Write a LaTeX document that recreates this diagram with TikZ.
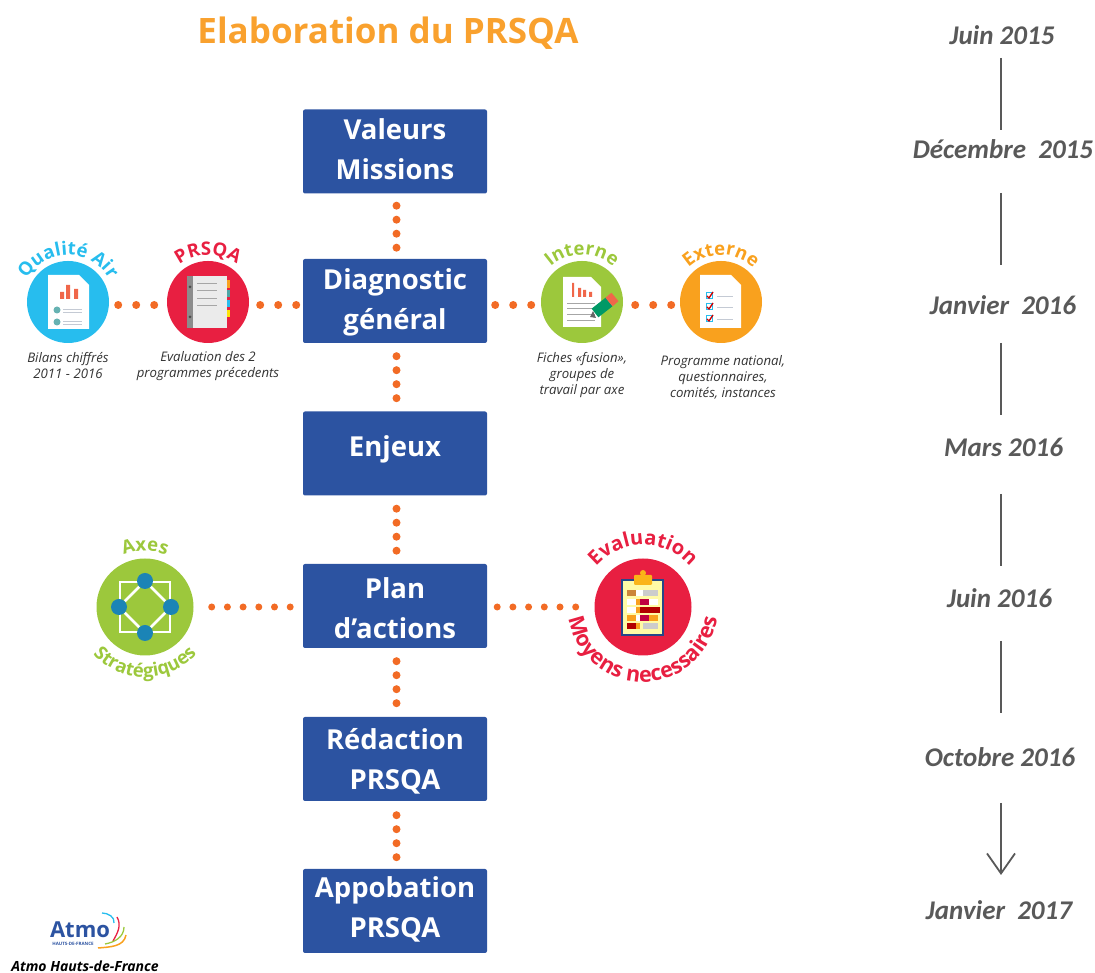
\documentclass[tikz,border=0pt]{standalone}
\usepackage{fontspec}
\setmainfont{Open Sans}
\newfontfamily\datefont{Carlito}
\usetikzlibrary{arrows.meta,decorations.text}

\definecolor{bleu}{HTML}{2C53A1}
\definecolor{points}{HTML}{F26B25}
\definecolor{titre}{HTML}{F9A12E}
\definecolor{ciel}{HTML}{27BDEE}
\definecolor{rouge}{HTML}{E81F41}
\definecolor{vert}{HTML}{9CC83C}
\definecolor{orange}{HTML}{F9A11E}
\definecolor{gris}{HTML}{595959}
\definecolor{legende}{HTML}{333333}
\definecolor{trait}{HTML}{C4CAD4}
\definecolor{barre}{HTML}{F0674A}
\definecolor{noeud}{HTML}{1B84B6}

\newcommand{\arcfont}{\fontsize{18.5}{20}\selectfont\bfseries}
\newcommand{\arcfontb}{\fontsize{20}{20}\selectfont\bfseries}
\newcommand{\arcfontc}{\fontsize{21.5}{23}\selectfont\bfseries}
\newcommand{\lignes}[3]{\smash{\raisebox{#1}{#2}}\\\smash{\raisebox{#1}{#3}}}

\begin{document}
\begin{tikzpicture}[x=1pt,y=1pt,node distance=152pt]

    % Definitions
    \tikzstyle{Etape} = [rectangle, rounded corners=2pt, minimum width=184pt, minimum height=84pt, inner sep=0pt, align=center, fill=bleu, text=white, font=\fontsize{27.5}{40}\selectfont\bfseries]
    \tikzstyle{Rond} = [circle, minimum size=82pt, inner sep=0pt]
    \tikzstyle{Grand} = [circle, minimum size=97pt, inner sep=0pt]
    \tikzstyle{Date} = [inner sep=0pt, text=gris, font=\datefont\fontsize{27}{27}\selectfont\bfseries\itshape]
    \tikzstyle{Legende} = [align=center, text=legende, font=\fontsize{13.2}{16}\selectfont\itshape]
    \tikzstyle{dots} = [draw=points, line width=8pt, line cap=round, dash pattern=on 0pt off 14pt]
    \tikzstyle{dotsh} = [draw=points, line width=8pt, line cap=round, dash pattern=on 0pt off 18pt]
    \tikzstyle{dotsl} = [draw=points, line width=7pt, line cap=round, dash pattern=on 0pt off 15.7pt]
    \tikzstyle{ligne} = [draw=gris, line width=1.8pt]
    \tikzstyle{arrow} = [ligne,->,>={Straight Barb[length=20pt,width=28pt]}]
    \tikzstyle{Papier} = [fill=white]
    \tikzstyle{Noeud} = [circle, fill=noeud, minimum size=16pt, inner sep=0pt]

    \useasboundingbox (0,0) rectangle (1095,973);

    \node (Titre) at (388,940) [text=titre, font=\fontsize{35}{35}\selectfont\bfseries] {Elaboration du PRSQA};

    % Etapes
    \node (Valeurs) at (395,821.5) [Etape] {\lignes{-8.5pt}{Valeurs}{Missions}};
    \node (Diagnostic) [Etape, below of=Valeurs, yshift=2.5pt] {\lignes{-9pt}{Diagnostic}{général}};
    \node (Enjeux) [Etape, below of=Diagnostic, yshift=-0.5pt] {\smash{\raisebox{-3.5pt}{Enjeux}}};
    \node (Plan) [Etape, below of=Enjeux, yshift=-0.5pt] {\lignes{-13pt}{Plan}{d'actions}};
    \node (Redaction) [Etape, below of=Plan, yshift=-1pt] {\lignes{-11pt}{Rédaction}{PRSQA}};
    \node (Approbation) [Etape, below of=Redaction] {\lignes{-7pt}{Appobation}{PRSQA}};

    % Ronds
    \node (Prsqa) [Rond, fill=rouge, left of=Diagnostic, xshift=-35pt, yshift=-1pt] {};
    \node (Qualite) [Rond, fill=ciel, left of=Prsqa, xshift=12pt] {};
    \node (Interne) [Rond, fill=vert, right of=Diagnostic, xshift=35pt, yshift=-1pt] {};
    \node (Externe) [Rond, fill=orange, right of=Interne, xshift=-13pt] {};
    \node (Axes) [Grand, fill=vert, left of=Plan, xshift=-98pt, yshift=-1pt] {};
    \node (Evaluation) [Grand, fill=rouge, right of=Plan, xshift=96pt, yshift=-1pt] {};

    % Legendes
    \node (LQualite) [Legende, below of=Qualite, yshift=88pt] {Bilans chiffrés\\2011 - 2016};
    \node (LPrsqa) [Legende, below of=Prsqa, yshift=88pt] {Evaluation des 2\\programmes précedents};
    \node (LInterne) [Legende, below of=Interne, yshift=79pt] {Fiches «fusion»,\\groupes de\\travail par axe};
    \node (LExterne) [Legende, below of=Externe, xshift=2pt, yshift=77pt] {Programme national,\\questionnaires,\\comités, instances};

    % Dates
    \node (D1) at (1002,938) [Date] {Juin 2015};
    \node (D2) [Date, below of=D1, xshift=1pt, yshift=38pt] {Décembre~~2015};
    \node (D3) [Date, below of=D2, yshift=-4pt] {Janvier~~2016};
    \node (D4) [Date, below of=D3, xshift=0.5pt, yshift=10pt] {Mars 2016};
    \node (D5) [Date, below of=D4, xshift=-4pt, yshift=1pt] {Juin 2016};
    \node (D6) [Date, below of=D5, xshift=0.5pt, yshift=-7pt] {Octobre 2016};
    \node (D7) [Date, below of=D6, xshift=-1pt, yshift=-1pt] {Janvier~~2017};
    \coordinate (Axe) at (1001,0);

    \draw [ligne, shorten <=23pt, shorten >=19pt] (D1 -| Axe) -- (D2 -| Axe);
    \draw [ligne, shorten <=44pt, shorten >=40pt] (D2 -| Axe) -- (D3 -| Axe);
    \draw [ligne, shorten <=38pt, shorten >=32pt] (D3 -| Axe) -- (D4 -| Axe);
    \draw [ligne, shorten <=47pt, shorten >=32pt] (D4 -| Axe) -- (D5 -| Axe);
    \draw [ligne, shorten <=43pt, shorten >=44pt] (D5 -| Axe) -- (D6 -| Axe);
    \draw [arrow, shorten <=46pt, shorten >=35pt] (D6 -| Axe) -- (D7 -| Axe);

    % Pointilles
    \draw [dots, shorten <=12pt, shorten >=5pt] ([xshift=1.5pt]Valeurs.south) -- ([xshift=1.5pt]Diagnostic.north);
    \draw [dots, shorten <=13pt, shorten >=5pt] ([xshift=1.5pt]Diagnostic.south) -- ([xshift=1.5pt]Enjeux.north);
    \draw [dots, shorten <=13pt, shorten >=5pt] ([xshift=1.5pt]Enjeux.south) -- ([xshift=1.5pt]Plan.north);
    \draw [dots, shorten <=13pt, shorten >=5pt] ([xshift=1.5pt]Plan.south) -- ([xshift=1.5pt]Redaction.north);
    \draw [dots, shorten <=14pt, shorten >=5pt] ([xshift=1.5pt]Redaction.south) -- ([xshift=1.5pt]Approbation.north);
    \draw [dotsh, shorten <=9pt, shorten >=5pt] ([yshift=-3pt]Qualite.east) -- ([yshift=-3pt]Prsqa.west);
    \draw [dotsh, shorten <=11pt, shorten >=3pt] ([yshift=-3pt]Prsqa.east) -- ([yshift=-4pt]Diagnostic.west);
    \draw [dotsh, shorten <=8pt, shorten >=4pt] ([yshift=-4pt]Diagnostic.east) -- ([yshift=-3pt]Interne.west);
    \draw [dotsh, shorten <=12pt, shorten >=5pt] ([yshift=-3pt]Interne.east) -- ([yshift=-3pt]Externe.west);
    \draw [dotsl, shorten <=18pt, shorten >=6pt] (Axes.east) -- ([yshift=-1pt]Plan.west);
    \draw [dotsl, shorten <=10pt, shorten >=10pt] ([yshift=-1pt]Plan.east) -- (Evaluation.west);

    % Textes en arc
    \path [decorate, decoration={text along path, text align=center, text={|\arcfont\color{ciel}|Qualité Air}}] ([shift={(170:47pt)}]Qualite.center) arc (170:10:47pt);
    \path [decorate, decoration={text along path, text align=center, text={|\arcfont\color{rouge}|PRSQA}}] ([shift={(170:47pt)}]Prsqa.center) arc (170:10:47pt);
    \path [decorate, decoration={text along path, text align=center, text={|\arcfont\color{vert}|Interne}}] ([shift={(170:47pt)}]Interne.center) arc (170:10:47pt);
    \path [decorate, decoration={text along path, text align=center, text={|\arcfont\color{orange}|Externe}}] ([shift={(170:47pt)}]Externe.center) arc (170:10:47pt);
    \path [decorate, decoration={text along path, text align=center, text={|\arcfont\color{vert}|Axes}}] ([shift={(170:56pt)}]Axes.center) arc (170:10:56pt);
    \path [decorate, decoration={text along path, text align=center, text={|\arcfont\color{vert}|Stratégiques}}] ([shift={(190:70pt)}]Axes.center) arc (190:350:70pt);
    \path [decorate, decoration={text along path, text align=center, text={|\arcfontb\color{rouge}|Evaluation}}] ([shift={(170:62pt)}]Evaluation.center) arc (170:10:62pt);
    \path [decorate, decoration={text along path, text align=center, text={|\arcfontc\color{rouge}|Moyens necessaires}}] ([shift={(190:75pt)}]Evaluation.center) arc (190:350:75pt);

    % Icone qualite
    \begin{scope}[shift={(Qualite.center)}]
        \fill [Papier] (-20,27) -- (11,27) -- (21,17) -- (21,-27) -- (-20,-27) -- cycle;
        \fill [barre] (-8,3) rectangle (-4,10) (-2,3) rectangle (2,17) (6,3) rectangle (10,13);
        \fill [teal!60] (-11,-8) circle (3.5pt) (-11,-20) circle (3.5pt);
        \foreach \y in {-7,-10,-19,-22} \draw [trait] (-5,\y) -- (14,\y);
    \end{scope}

    % Icone cahier
    \begin{scope}[shift={(Prsqa.center)}]
        \fill [black!8] (-21,26) rectangle (19,-26);
        \fill [black!45] (-21,26) rectangle (-15,-26);
        \fill [black!70] (-18,15) circle (1.5pt) (-18,-15) circle (1.5pt);
        \foreach \y in {19,12,4,-3} \draw [black!35, line width=0.8pt] (-11,\y) -- (9,\y);
        \fill [orange] (19,22) rectangle (22,14);
        \fill [teal!70] (19,12) rectangle (22,5);
        \fill [ciel] (19,2) rectangle (22,-5);
        \fill [yellow!80!orange] (19,-8) rectangle (22,-15);
    \end{scope}

    % Icone fiche
    \begin{scope}[shift={(Interne.center)}]
        \fill [Papier] (-19,25) -- (9,25) -- (19,15) -- (19,-25) -- (-19,-25) -- cycle;
        \fill [barre] (-10,5) rectangle (-8,19) (-4,5) rectangle (-1,14) (1,5) rectangle (4,12) (7,5) rectangle (10,10);
        \foreach \y in {-1,-6,-12,-18} \draw [black!35, line width=0.8pt] (-15,\y) -- (13,\y);
        \draw [teal!80!green, line width=11pt] (13,-11) -- (27,0);
        \draw [barre, line width=11pt] (27,0) -- (33,5);
        \fill [black!60] (8,-15) -- (11,-9) -- (14,-16) -- cycle;
    \end{scope}

    % Icone liste
    \begin{scope}[shift={(Externe.center)}]
        \fill [Papier] (-21,27) -- (10,27) -- (20,17) -- (20,-26) -- (-21,-26) -- cycle;
        \foreach \y in {6,-5,-17} {
            \draw [ciel, line width=1pt] (-15,\y-3) rectangle (-9,\y+3);
            \draw [red!80!black, line width=1.3pt] (-14,\y) -- (-12,\y-2) -- (-8,\y+4);
            \draw [trait, line width=0.6pt] (-4,\y) -- (12,\y);
        }
    \end{scope}

    % Icone axes
    \begin{scope}[shift={(Axes.center)}]
        \draw [white, line width=2.5pt] (-25,25) rectangle (25,-25);
        \node (N1) at (0,26) [Noeud] {};
        \node (N2) at (26,0) [Noeud] {};
        \node (N3) at (0,-26) [Noeud] {};
        \node (N4) at (-26,0) [Noeud] {};
        \draw [white, line width=2.5pt] (N1) -- (N2) -- (N3) -- (N4) -- (N1);
    \end{scope}

    % Icone evaluation
    \begin{scope}[shift={(Evaluation.center)}]
        \fill [yellow!35!white, draw=bleu!85!black, line width=1.5pt] (-21,27) rectangle (20,-28);
        \fill [orange!80!yellow, rounded corners=1pt] (-9,22) rectangle (9,32);
        \fill [orange!80!yellow] (0,34) circle (3pt);
        \foreach \xa/\xb/\y/\c in {-16/-7/14/brown!80!orange, -7/0/14/white, 0/15/14/black!20,
            -16/-7/5/white, -7/-3/5/orange, -3/6/5/purple, 6/15/5/white,
            -16/-7/-3/white, -7/-3/-3/orange, -3/17/-3/red!70!black,
            -16/-7/-11/orange, -7/-3/-11/white, -3/6/-11/purple, 6/15/-11/orange,
            -16/-7/-19/red!70!black, -7/-3/-19/orange, 0/15/-19/black!20}
            \fill [\c] (\xa,\y-3) rectangle (\xb,\y+3);
    \end{scope}

    % Logo
    \node (Atmo) at (80,43) [text=bleu, font=\fontsize{22}{22}\selectfont\bfseries] {Atmo};
    \node (Hauts) at (73,35) [text=bleu, font=\fontsize{4.5}{5}\selectfont\bfseries, yshift=-6pt] {HAUTS-DE-FRANCE};
    \node (Signature) at (85,7) [text=black, font=\fontsize{14}{14}\selectfont\bfseries\itshape] {Atmo Hauts-de-France};
    \draw [ciel, line width=1.3pt] (102,60) to[out=0,in=80] (114,50);
    \draw [rouge, line width=1.3pt] (117,56) to[out=-60,in=60] (113,32);
    \draw [vert, line width=1.3pt] (124,46) to[out=-90,in=10] (105,29);
    \draw [orange, line width=1.5pt] (126,38) to[out=-100,in=5] (98,25);

\end{tikzpicture}
\end{document}
